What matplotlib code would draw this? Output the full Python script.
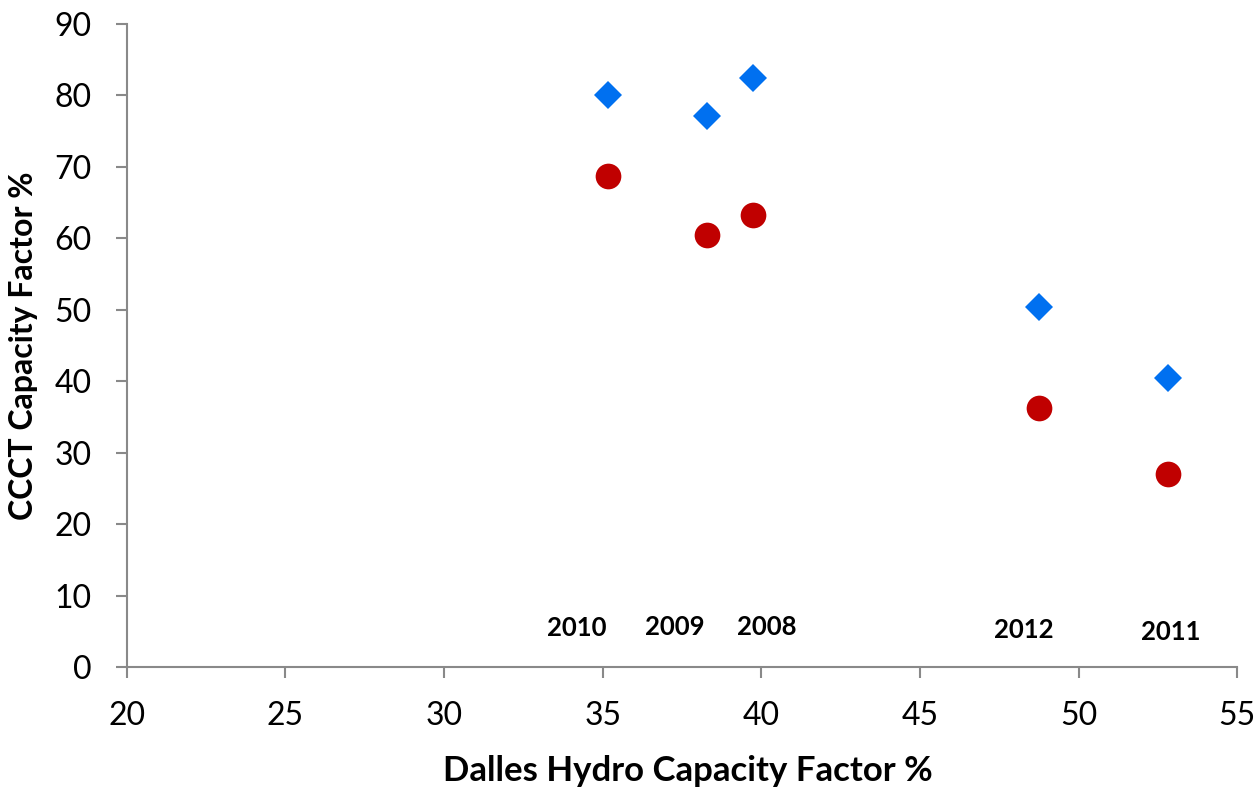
import matplotlib
matplotlib.use("Agg")
import matplotlib.pyplot as plt

# data
years = ["2008", "2009", "2010", "2011", "2012"]
hydro_cf = [39.75, 38.3, 35.18, 52.81, 48.74]
ccct_blue = [82.4, 77.1, 80.0, 40.4, 50.4]
ccct_red = [63.3, 60.4, 68.7, 27.1, 36.3]

# where the year labels sit (offset from the point, in x units, and height)
label_dx = [0.42, -1.02, -0.99, 0.08, -0.47]
label_y = [5.7, 5.7, 5.5, 4.9, 5.3]

plt.rcParams['font.family'] = ['Lato', 'DejaVu Sans']

fig = plt.figure(figsize=(12.58, 7.89), dpi=100)
ax = fig.add_axes([0.1007, 0.154, 0.8829, 0.816])

ax.plot(hydro_cf, ccct_blue, linestyle='none', marker='D', markersize=14,
        color='#0070F0', markeredgewidth=0)
ax.plot(hydro_cf, ccct_red, linestyle='none', marker='o', markersize=18.5,
        color='#C00000', markeredgewidth=0)

for yr, x, dx, y in zip(years, hydro_cf, label_dx, label_y):
    ax.text(x + dx, y, yr, ha='center', va='center', fontsize=18.5,
            fontweight='bold', color='black')

ax.set_xlim(20, 55)
ax.set_ylim(0, 90)
ax.set_xticks(range(20, 56, 5))
ax.set_yticks(range(0, 91, 10))

for s in ['top', 'right']:
    ax.spines[s].set_visible(False)
for s in ['left', 'bottom']:
    ax.spines[s].set_color('#898989')
    ax.spines[s].set_linewidth(1.5)

ax.tick_params(axis='both', direction='out', length=8, width=1.5,
               color='#898989', labelsize=23)
ax.tick_params(axis='y', pad=17)
ax.tick_params(axis='x', pad=16)

ax.set_xlabel('Dalles Hydro Capacity Factor %', fontsize=25, fontweight='bold',
              va='center')
ax.set_ylabel('CCCT Capacity Factor %', fontsize=23, fontweight='bold',
              va='center')
ax.xaxis.set_label_coords(0.505, -0.161)
ax.yaxis.set_label_coords(-0.093, 0.5)

fig.savefig('out.png', dpi=100)
